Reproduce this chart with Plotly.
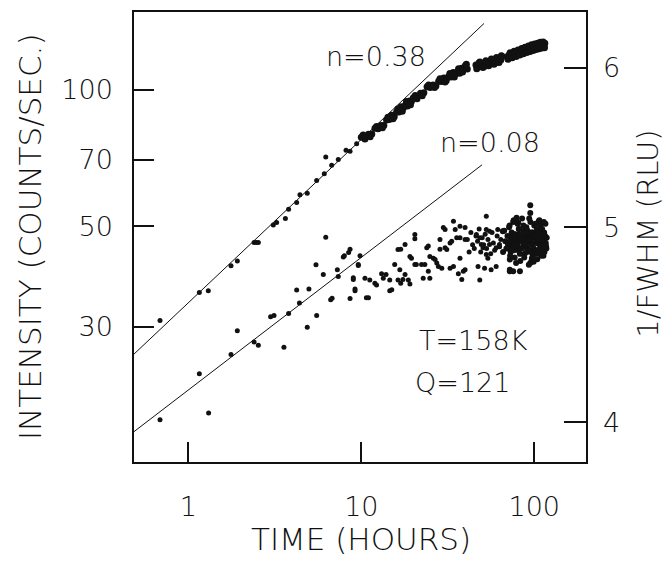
import plotly.graph_objects as go

# ---- data ----
# Intensity (counts/sec) vs time (hours) -- left axis
int_t = [0.686, 1.158, 1.305, 1.765, 1.92, 2.40, 2.47, 2.54, 3.10, 3.24, 3.64, 3.80, 4.23, 4.42,
         4.87, 5.52, 6.11, 6.23, 6.74, 7.36, 8.16, 8.61, 9.40,
         10.0, 10.5, 11.0, 11.5, 12.0, 12.5, 13.0, 13.5, 14.0, 14.5, 15.0, 15.5, 16.0, 16.5, 17.0,
         17.5, 18.0, 18.5, 19.0, 19.5, 20.0, 21, 22, 23, 24, 25, 26, 27, 28, 29, 30, 31, 32, 33,
         34, 35, 36, 37, 38, 39, 40, 41, 46, 47, 48, 49, 50, 52, 54, 56, 58, 60, 62, 64, 65,
         70, 72, 74, 76, 78, 80, 82, 84, 86, 88, 90, 92, 94, 96, 98, 100, 102, 104, 106, 108,
         110, 112, 114, 115,
         51, 53, 55, 57, 59, 61, 63, 71, 73, 75, 77, 79, 81, 83, 85, 87, 89, 91, 93, 95, 97,
         99, 101, 103, 105, 107, 109, 111, 113,
         10.25, 11.25, 12.25, 13.25, 14.25, 15.25, 16.25, 17.25, 18.25, 19.25, 20.5, 22.5, 24.5,
         26.5, 28.5, 30.5, 32.5, 34.5, 36.5, 38.5, 40.5, 46.5, 48.5, 50.5, 52.5, 54.5, 56.5,
         58.5, 60.5, 62.5, 64.5, 70.5, 72.5, 74.5, 76.5, 78.5, 80.5, 82.5, 84.5, 86.5, 88.5,
         90.5, 92.5, 94.5, 96.5, 98.5, 100.5, 102.5, 104.5, 106.5, 108.5, 110.5, 112.5, 114.5]
int_v = [30.95, 35.7, 36.0, 40.9, 41.9, 46.0, 46.0, 46.0, 50.3, 50.9, 52.0, 54.5, 56.4, 58.6,
         59.1, 63.0, 65.2, 71.0, 68.1, 70.1, 73.5, 73.1, 76.0,
         78.5, 77.8, 79.7, 79.8, 82.2, 82.0, 83.3, 83.3, 85.7, 85.9, 87.8, 87.1, 89.3, 89.3, 91.7,
         91.2, 92.5, 92.0, 94.4, 94.2, 95.9, 95.4, 98.1, 98.4, 101.4, 101.1, 102.3, 101.8, 104.3,
         104.2, 106.0, 104.7, 106.9, 106.6, 109.1, 108.2, 109.3, 108.7, 111.4, 111.1, 113.0, 111.0,
         113.3, 112.3, 114.6, 113.0, 113.6, 112.7, 115.3, 114.8, 116.4, 114.7, 116.9, 116.2, 118.5,
         117.9, 118.8, 117.9, 120.4, 119.8, 121.5, 119.7, 121.8, 121.0, 123.6, 122.1, 122.9, 121.7,
         124.4, 123.6, 125.2, 123.2, 125.1, 124.2, 126.7, 125.0, 125.6, 124.2, 126.6,
         113.9, 114.6, 114.1, 115.8, 115.2, 116.6, 116.0, 118.9, 118.6, 119.8, 119.3, 120.8, 120.2,
         121.6, 120.9, 122.4, 121.8, 123.2, 122.4, 123.9, 123.1, 124.6, 123.7, 125.3, 124.1, 125.6,
         124.7, 126.0, 125.0,
         79.4, 78.7, 82.9, 82.4, 86.9, 86.2, 90.6, 89.6, 94.1, 92.6, 97.1, 96.9, 102.3,
         101.1, 105.6, 103.9, 108.5, 106.6, 111.2, 109.3, 113.7, 111.2, 115.0, 111.9, 115.8, 112.9,
         116.8, 113.8, 117.7, 114.8, 118.8, 116.6, 120.6, 117.5, 121.5, 118.3, 122.3, 119.2, 123.2,
         120.0, 124.0, 120.8, 124.7, 121.4, 125.5, 122.0, 126.1, 122.6, 126.6, 123.1, 127.2, 123.5,
         127.4, 123.7]

# 1/FWHM (RLU) vs time (hours) -- right axis
fw_t = [0.686, 1.158, 1.31, 1.765, 1.92, 2.40, 2.54, 2.99, 3.13, 3.57, 3.80, 4.23, 4.39, 4.87,
        4.98, 5.47, 5.52, 6.03, 6.23, 6.65, 6.78, 7.27, 7.36, 7.87, 7.98, 8.45, 8.61, 8.99, 9.20,
        9.61,
        8.61, 9.83, 9.61, 8.99, 9.20, 10.7, 10.5, 11.2, 11.98, 12.25, 13.1, 13.4, 13.9, 14.6, 14.6,
        15.0, 15.6, 16.3, 16.9, 16.7, 16.3, 17.4, 17.9, 19.1, 19.1, 19.5, 20.4, 20.4, 22.3, 23.3,
        23.9, 24.4, 24.4, 24.9, 24.9, 26.1, 26.7, 27.3, 27.9, 28.5, 28.5, 29.2, 29.8, 30.5, 31.2,
        32.6, 33.3, 32.6, 34.1, 35.6, 37.2, 39.8, 37.2, 36.4, 38.1, 39.8, 37.2, 39.8,
        11.0, 16.9, 18.7, 20.8, 22.8, 48.4, 56.3, 72.2, 82.6, 94.8, 38.9,
        34.1, 30.5, 34.9, 52.8, 94.8, 94.8, 79.0, 80.8, 106.1, 52.8, 65.8, 20.4, 17.9,
        46.3, 48.4, 49.4, 50.5, 47.3, 51.6, 52.8, 53.9, 55.1, 60.2, 61.5, 55.1, 60.2, 62.9,
        72.2, 75.5, 72.2, 96.9, 99.1,
        41, 42, 43, 44, 45, 46, 47, 48, 49, 50, 51, 52, 53, 54, 56, 57, 58, 59, 61, 63, 64, 66,
        67, 68, 69,
        70, 71, 72, 73, 74, 75, 76, 77, 78, 79, 80, 81, 82, 83, 84, 85, 86, 87, 88, 89, 90, 91,
        92, 93, 94, 95, 96, 97, 98, 99, 100, 101, 102, 103, 104, 105, 106, 107, 108, 109, 110,
        111, 112, 113, 114, 115, 116, 117, 118,
        70.5, 71.5, 72.5, 73.5, 74.5, 75.5, 76.5, 77.5, 78.5, 79.5, 80.5, 81.5, 82.5, 83.5, 84.5,
        85.5, 86.5, 87.5, 88.5, 89.5, 90.5, 91.5, 92.5, 93.5, 94.5, 95.5, 96.5, 97.5, 98.5, 99.5,
        100.5, 101.5, 102.5, 103.5, 104.5, 105.5, 106.5, 107.5, 108.5, 109.5, 110.5, 111.5,
        112.5, 113.5, 114.5, 115.5, 116.5, 117.5,
        72.8, 76.2, 79.6, 83.1, 86.7, 90.2, 93.8, 97.3, 100.8, 104.2, 107.7, 111.2, 114.6,
        74.1, 81.4, 88.9, 95.6, 102.9, 110.3, 116.2]
fw_v = [4.011, 4.228, 4.043, 4.322, 4.441, 4.385, 4.368, 4.513, 4.520, 4.358, 4.530, 4.654,
        4.585, 4.459, 4.659, 4.79, 4.520, 4.736, 4.943, 4.602, 4.610, 4.763, 4.726, 4.833, 4.840,
        4.858, 4.608, 4.719, 4.659, 4.791,
        4.876, 4.84, 4.786, 4.71, 4.65, 4.612, 4.716, 4.707, 4.69, 4.68, 4.74, 4.716, 4.736, 4.707,
        4.65, 4.655, 4.791, 4.874, 4.876, 4.763, 4.707, 4.709, 4.736, 4.685, 4.835, 4.826, 4.958,
        4.791, 4.791, 4.791, 4.884, 4.893, 4.754, 4.716, 4.835, 4.826, 4.818, 4.80, 4.78, 4.93,
        4.876, 4.77, 4.998, 4.884, 4.874, 4.91, 4.92, 4.77, 4.78, 4.94, 4.94, 4.93, 4.826, 4.74,
        4.709, 4.763, 5.005, 4.998,
        4.612, 4.69, 4.707, 4.791, 4.716, 4.707, 4.763, 4.754, 4.754, 4.80, 4.754,
        5.034, 4.987, 4.987, 5.063, 5.127, 5.082, 5.054, 5.025, 5.034, 4.987, 4.977, 4.934, 4.902,
        4.958, 4.94, 4.902, 4.884, 4.78, 4.77, 4.846, 4.826, 4.977, 4.78, 4.987, 4.902, 4.884,
        4.902,
        4.763, 4.754, 4.818, 4.826, 4.806,
        4.93, 4.86, 4.97, 4.90, 4.88, 4.95, 4.92, 4.99, 4.86, 4.94, 4.90, 4.96, 4.88, 4.93, 4.85,
        4.97, 4.91, 4.87, 4.95, 4.89, 4.93, 4.86, 4.98, 4.92, 4.88,
        4.95, 4.88, 5.01, 4.86, 4.97, 4.92, 5.04, 4.83, 4.95, 4.90, 5.02, 4.87, 4.96, 4.81, 4.93,
        5.05, 4.89, 4.98, 4.85, 4.94, 5.00, 4.88, 4.95, 4.79, 4.92, 5.03, 4.90, 4.97, 4.84, 4.94,
        5.01, 4.87, 4.96, 4.91, 4.82, 4.98, 4.93, 5.04, 4.88, 4.95, 4.86, 4.99, 4.92, 4.84, 4.97,
        4.90, 5.02, 4.89, 4.94,
        4.90, 5.00, 4.84, 4.94, 4.89, 5.03, 4.87, 4.96, 4.80, 4.93, 4.91, 4.99, 4.85, 4.95, 4.88,
        4.92, 5.01, 4.83, 4.96, 4.90, 4.86, 4.98, 4.92, 5.05, 4.87, 4.94, 4.81, 4.97, 4.91, 4.88,
        4.95, 5.02, 4.85, 4.99, 4.93, 4.87, 4.96, 4.90, 5.01, 4.84, 4.94, 4.89, 4.97, 5.03, 4.86,
        4.95, 4.91, 4.88,
        4.92, 4.96, 4.89, 4.94, 4.91, 4.97, 4.93, 4.90, 4.95, 4.92, 4.96, 4.89, 4.94,
        4.87, 4.99, 4.91, 4.86, 4.97, 4.93, 4.90]

# power-law guide lines (end points)
fit_int_t = [0.485, 51.2]
fit_int_v = [26.1, 139.9]
fit_fw_t = [0.485, 49.9]
fit_fw_v = [3.957, 5.37]

x_ticks = [1, 10, 100]
y_ticks = [30, 50, 70, 100]
y2_ticks = [4, 5, 6]

FONT = "DejaVu Sans"
ink = "#111111"

fig = go.Figure()
fig.add_trace(go.Scatter(x=fit_int_t, y=fit_int_v, mode="lines",
                         line=dict(color=ink, width=1), showlegend=False))
fig.add_trace(go.Scatter(x=fit_fw_t, y=fit_fw_v, mode="lines", yaxis="y2",
                         line=dict(color=ink, width=1), showlegend=False))
fig.add_trace(go.Scatter(x=int_t, y=int_v, mode="markers",
                         marker=dict(color=ink, opacity=1,
                                     size=[5 if t < 9.8 else 7 for t in int_t],
                                     line=dict(width=0)),
                         showlegend=False))
fig.add_trace(go.Scatter(x=fw_t, y=fw_v, mode="markers", yaxis="y2",
                         marker=dict(color=ink, opacity=1,
                                     size=[5 if t < 65 else 6 for t in fw_t],
                                     line=dict(width=0)),
                         showlegend=False))

tickfont = dict(family=FONT, size=27, color=ink, weight=200)
titlefont = dict(family=FONT, size=31, color=ink, weight=200)
annfont = dict(family=FONT, size=27, color=ink, weight=200)

fig.update_layout(
    width=667, height=562, autosize=False,
    margin=dict(l=134, r=81, t=12, b=100, autoexpand=False),
    paper_bgcolor="white", plot_bgcolor="white",
    font=dict(family=FONT, color=ink),
    xaxis=dict(type="log", range=[-0.314, 2.299], tickvals=x_ticks,
               ticktext=[str(v) for v in x_ticks], automargin=False,
               ticks="inside", ticklen=20, tickwidth=1.5, tickcolor=ink,
               showline=True, linecolor=ink, linewidth=1.5, mirror=True,
               showgrid=False, zeroline=False, tickfont=tickfont,
               ticklabelstandoff=20),
    yaxis=dict(type="log", range=[1.1788, 2.1711], tickvals=y_ticks,
               ticktext=[str(v) for v in y_ticks], automargin=False,
               ticks="inside", ticklen=20, tickwidth=1.5, tickcolor=ink,
               showline=True, linecolor=ink, linewidth=1.5, mirror=True,
               showgrid=False, zeroline=False, tickfont=tickfont,
               ticklabelstandoff=14),
    yaxis2=dict(type="log", range=[0.5823, 0.8059], tickvals=y2_ticks,
                ticktext=[str(v) for v in y2_ticks], overlaying="y", side="right",
                automargin=False,
                ticks="inside", ticklen=22, tickwidth=1.5, tickcolor=ink,
                showline=False, showgrid=False, zeroline=False, tickfont=tickfont,
                ticklabelstandoff=16),
)

# axis titles
fig.add_annotation(text="TIME (HOURS)", xref="paper", yref="paper", x=0.502, y=-0.171,
                   showarrow=False, font=titlefont, xanchor="center", yanchor="middle")
fig.add_annotation(text="INTENSITY (COUNTS/SEC.)", xref="paper", yref="paper",
                   x=-0.230, y=0.5, textangle=-90,
                   showarrow=False, font=titlefont, xanchor="center", yanchor="middle")
fig.add_annotation(text="1/FWHM (RLU)", xref="paper", yref="paper",
                   x=1.137, y=0.507, textangle=-90,
                   showarrow=False, font=dict(family=FONT, size=29, color=ink, weight=200),
                   xanchor="center", yanchor="middle")

# in-plot labels
fig.add_annotation(text="n=0.38", xref="paper", yref="paper", x=0.535, y=0.901,
                   showarrow=False, font=annfont, xanchor="center", yanchor="middle")
fig.add_annotation(text="n=0.08", xref="paper", yref="paper", x=0.788, y=0.710,
                   showarrow=False, font=annfont, xanchor="center", yanchor="middle")
fig.add_annotation(text="T=158K", xref="paper", yref="paper", x=0.626, y=0.269,
                   showarrow=False, font=annfont, xanchor="left", yanchor="middle")
fig.add_annotation(text="Q=121", xref="paper", yref="paper", x=0.617, y=0.176,
                   showarrow=False, font=annfont, xanchor="left", yanchor="middle")

fig.write_html("out.html", config={"displayModeBar": False},
               post_script="document.body.style.margin='0';")
